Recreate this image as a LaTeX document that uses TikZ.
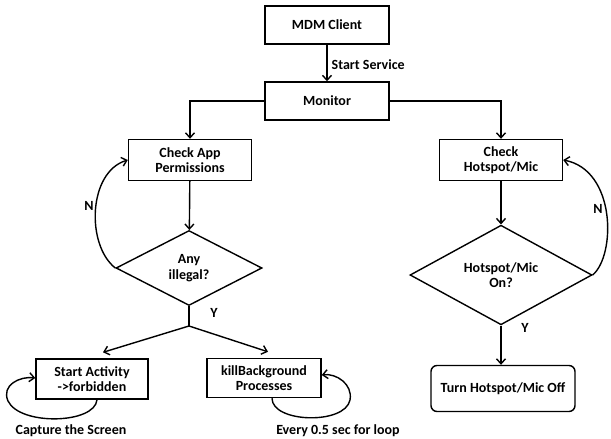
\documentclass[tikz,border=0pt]{standalone}
\usepackage{fontspec}
\setmainfont{Carlito}
\usetikzlibrary{shapes.geometric,arrows.meta}
\tikzset{
  box/.style={draw, line width=1.4pt, minimum width=123pt, minimum height=40pt, align=center, inner sep=2pt},
  decide/.style={draw, diamond, line width=1.4pt, align=center, inner sep=0pt},
  lbl/.style={inner sep=1pt},
  arr/.style={line width=1.4pt, -{Straight Barb[length=5pt,width=9pt]}},
  ln/.style={line width=1.4pt}
}
\begin{document}
\begin{tikzpicture}[x=1pt,y=-1pt,font=\fontsize{14}{15.5}\selectfont\bfseries]
    \useasboundingbox (0,0) rectangle (611,439);

    \node[box, minimum width=124pt, minimum height=38pt] (mdm) at (327,25) {MDM Client};
    \node[box, minimum width=124pt, minimum height=38pt] (mon) at (327,101) {Monitor};
    \node[box, minimum height=41pt] (cap) at (190,160) {Check App\\Permissions};
    \node[box, minimum height=41pt] (chm) at (501,160) {Check\\Hotspot/Mic};
    \node[decide, minimum width=146pt, minimum height=75pt] (ill) at (189,268) {Any\\illegal?};
    \node[decide, minimum width=182pt, minimum height=75pt] (hmo) at (501,275) {Hotspot/Mic\\On?};
    \node[box, minimum width=112pt] (sa) at (92,379) {Start Activity\\->forbidden};
    \node[box, minimum width=114pt, minimum height=39pt] (kb) at (264,378) {killBackground\\Processes};
    \node[box, rounded corners=6pt, minimum width=144pt, minimum height=46pt] (off) at (503,388.5) {Turn Hotspot/Mic Off};
    \coordinate (fork) at (189,326);

    \node[lbl] (nl) at (89,206) {N};
    \node[lbl] (nr) at (598,209) {N};
    \node[lbl] (yl) at (214,313) {Y};
    \node[lbl] (yr) at (525,328) {Y};
    \node[lbl] (cs) at (71,431) {Capture the Screen};
    \node[lbl] (ev) at (338,431) {Every 0.5 sec for loop};

    \draw[arr] (mdm) -- (mon) node[pos=0.55, right, inner sep=4pt] (ss) {Start Service};
    \draw[arr] (mon.west) -| (cap.north);
    \draw[arr] (mon.east) -| (chm.north);
    \draw[arr] (cap) -- (ill);
    \draw[arr] (chm) -- (hmo);
    \draw[arr] (ill.west) .. controls (86,245) and (88,172) .. (cap.west);
    \draw[arr] (hmo.east) .. controls (616,255) and (616,170) .. (chm.east);
    \draw[ln] (ill.south) -- (fork);
    \draw[arr] (fork) -- ([xshift=11pt,yshift=6pt]sa.north);
    \draw[arr] (fork) -- ([xshift=4pt,yshift=6pt]kb.north);
    \draw[arr] (hmo.south) -- (hmo.south |- off.north);
    \draw[arr] ([xshift=5pt]sa.south) .. controls (95,424) and (20,426) .. (8,401)
        .. controls (1,385) and (20,376) .. ([yshift=1pt]sa.west);
    \draw[arr] ([xshift=8pt]kb.south) .. controls (272,423) and (345,425) .. (350,400)
        .. controls (353,384) and (336,373) .. ([yshift=3pt]kb.east);
\end{tikzpicture}
\end{document}
